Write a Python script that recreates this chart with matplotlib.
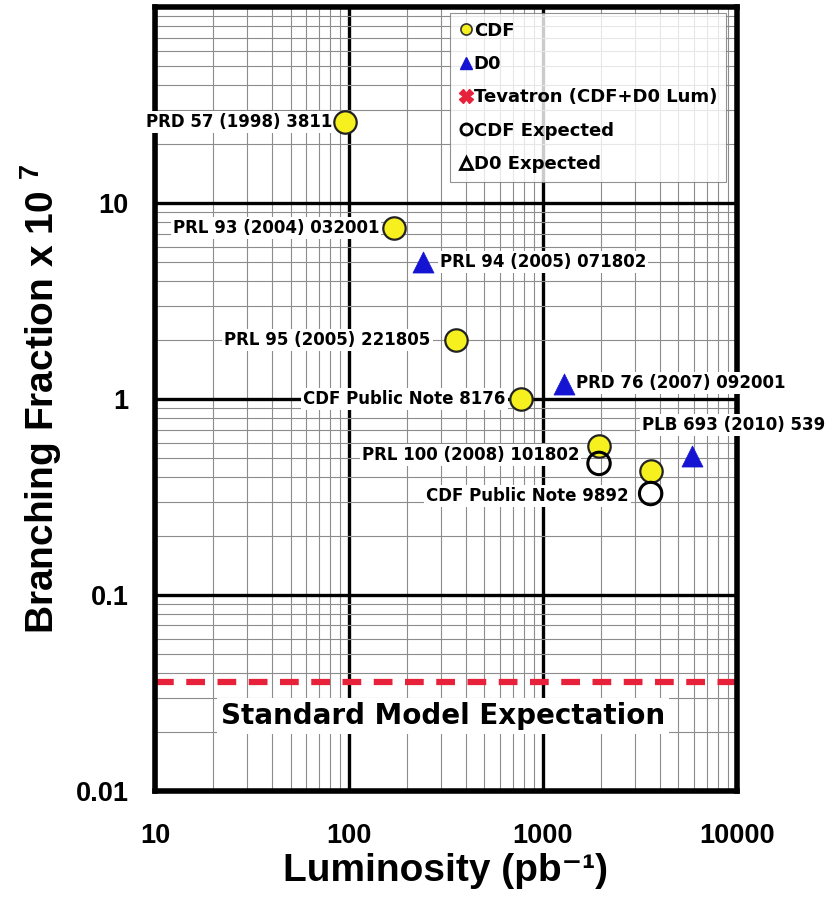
import matplotlib
matplotlib.use("Agg")
import matplotlib.pyplot as plt
from matplotlib.ticker import LogLocator, FixedLocator, NullFormatter
from matplotlib.lines import Line2D

plt.rcParams['font.family'] = ['Liberation Sans', 'DejaVu Sans']
plt.rcParams['font.weight'] = 'bold'
plt.rcParams['mathtext.fontset'] = 'custom'
plt.rcParams['mathtext.rm'] = 'Liberation Sans'
plt.rcParams['mathtext.bf'] = 'Liberation Sans:bold'
WIDE = ['DejaVu Sans']

# CDF limits: luminosity (pb^-1), branching fraction (x 1e-7)
cdf_lumi = [95, 171, 355, 770, 1950, 3600]
cdf_bf = [26, 7.5, 2.0, 1.0, 0.58, 0.43]
cdf_labels = ["PRD 57 (1998) 3811", "PRL 93 (2004) 032001", "PRL 95 (2005) 221805",
              "CDF Public Note 8176", "PRL 100 (2008) 101802", "CDF Public Note 9892"]

# D0 limits
d0_lumi = [240, 1280, 5900]
d0_bf = [5.0, 1.2, 0.51]
d0_labels = ["PRL 94 (2005) 071802", "PRD 76 (2007) 092001", "PLB 693 (2010) 539"]

# CDF expected limits
cdf_exp_lumi = [1950, 3600]
cdf_exp_bf = [0.47, 0.33]

# Standard Model prediction
sm_bf = 0.036

fig = plt.figure(figsize=(8.4, 8.99), dpi=100)
ax = fig.add_axes([0.1845, 0.12, 0.6925, 0.872])
ax.set_xscale('log')
ax.set_yscale('log')
ax.set_xlim(10, 10000)
ax.set_ylim(0.01, 100)

# grid: heavy decades, light sub-decades
ax.xaxis.set_minor_locator(LogLocator(base=10, subs=range(2, 10)))
ax.yaxis.set_minor_locator(LogLocator(base=10, subs=range(2, 10)))
ax.xaxis.set_minor_formatter(NullFormatter())
ax.yaxis.set_minor_formatter(NullFormatter())
ax.grid(which='minor', color='#8c8c8c', lw=0.8, zorder=0)
ax.grid(which='major', color='black', lw=2.4, zorder=0.5)
ax.set_axisbelow(True)

ax.xaxis.set_major_locator(FixedLocator([10, 100, 1000, 10000]))
ax.yaxis.set_major_locator(FixedLocator([0.01, 0.1, 1, 10]))
ax.set_xticklabels(["10", "100", "1000", "10000"])
ax.set_yticklabels(["0.01", "0.1", "1", "10"])
ax.tick_params(which='both', length=0, labelsize=19.5)
ax.tick_params(axis='x', pad=23)
ax.tick_params(axis='y', pad=19)
for lab in ax.get_xticklabels() + ax.get_yticklabels():
    lab.set_fontweight('bold')

for sp in ax.spines.values():
    sp.set_linewidth(4)
    sp.set_zorder(5)

# SM line
ax.axhline(sm_bf, color='#e8213a', lw=4.5, ls=(0, (3.0, 2.0)), zorder=3)
ax.text(10 ** 2.485, 0.0241, "Standard Model Expectation", ha='center', va='center',
        fontsize=20, fontweight='bold', family=WIDE,
        bbox=dict(facecolor='white', edgecolor='none', pad=3), zorder=2)

# markers
ax.scatter(cdf_lumi, cdf_bf, s=260, marker='o', facecolor='#f5f01e', edgecolor='#222222',
           lw=1.6, zorder=6)
ax.scatter(d0_lumi, d0_bf, s=230, marker='^', facecolor='#1414d2', edgecolor='#1414d2',
           lw=0.5, zorder=6)
ax.scatter(cdf_exp_lumi, cdf_exp_bf, s=260, marker='o', facecolor='none', edgecolor='black',
           lw=2.2, zorder=7)

# reference labels sit on white boxes above the grid and frame
lab_box = dict(facecolor='white', edgecolor='none', pad=1.5)
lab_kw = dict(fontsize=12, fontweight='bold', family=WIDE, va='center',
              textcoords='offset pixels', bbox=lab_box, zorder=5.5, annotation_clip=False)

cdf_offsets = [(-12, 0), (-15, 0), (-25, 0), (-15, 0), (-20, -9), (-22, -25)]
for x, y, t, off in zip(cdf_lumi, cdf_bf, cdf_labels, cdf_offsets):
    ax.annotate(t, (x, y), xytext=off, ha='right', **lab_kw)

d0_offsets = [(17, 0), (12, 1), (-50, 31)]
for x, y, t, off in zip(d0_lumi, d0_bf, d0_labels, d0_offsets):
    ax.annotate(t, (x, y), xytext=off, ha='left', **lab_kw)

handles = [
    Line2D([], [], ls='none', marker='o', ms=8, mfc='#f5f01e', mec='#333333', mew=1.2),
    Line2D([], [], ls='none', marker='^', ms=9, mfc='#1414d2', mec='#1414d2'),
    Line2D([], [], ls='none', marker='X', ms=10, mfc='#e8213a', mec='#e8213a'),
    Line2D([], [], ls='none', marker='o', ms=8, mfc='none', mec='black', mew=2),
    Line2D([], [], ls='none', marker='^', ms=8, mfc='none', mec='black', mew=2),
]
leg = ax.legend(handles, ["CDF", "D0", "Tevatron (CDF+D0 Lum)", "CDF Expected", "D0 Expected"],
                loc='upper right', bbox_to_anchor=(0.982, 0.993), frameon=True, fancybox=False,
                prop={'weight': 'bold', 'size': 13, 'family': WIDE}, handlelength=0.7,
                handletextpad=0.1, labelspacing=0.85, borderpad=0.5, borderaxespad=0)
leg.get_frame().set_edgecolor('#777777')
leg.get_frame().set_linewidth(0.8)
leg.set_zorder(8)

ax.set_xlabel("Luminosity (pb⁻¹)", fontsize=28, fontweight='bold', labelpad=3)
ax.set_ylabel("Branching Fraction x 10 $^{\\mathbf{7}}$", fontsize=28, fontweight='bold',
              labelpad=8)

fig.savefig("out.png", dpi=100)
